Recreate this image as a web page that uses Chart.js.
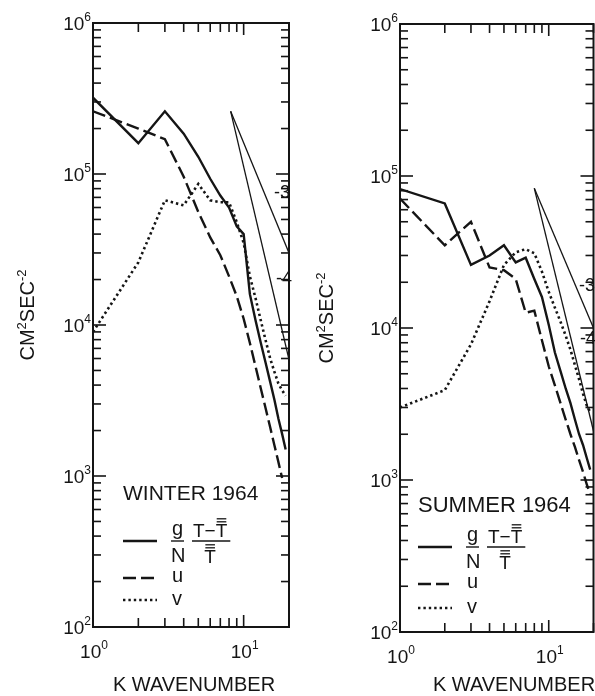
<!DOCTYPE html>
<html>
<head>
<meta charset="utf-8">
<script src="https://cdn.jsdelivr.net/npm/chart.js@4.4.0/dist/chart.umd.min.js"></script>
<style>
  html, body { margin: 0; padding: 0; background: #fff; }
  #wrap { position: relative; width: 595px; height: 696px; overflow: hidden; }
  #chartWinter { position: absolute; left: 0; top: 0; }
  #chartSummer { position: absolute; left: 300px; top: 0; }
</style>
</head>
<body>
<div id="wrap">
  <canvas id="chartWinter" width="300" height="696"></canvas>
  <canvas id="chartSummer" width="295" height="696"></canvas>
</div>
<script>
// wavenumber k (both seasons)
const wavenumber = [1, 2, 3, 4, 5, 6, 7, 8, 9, 10, 11, 12, 13, 14, 15, 16, 17, 18, 19];

// WINTER 1964, cm^2 sec^-2
const winterTemp = [3.2e5, 1.6e5, 2.6e5, 1.85e5, 1.3e5, 9.3e4, 7.2e4, 6.0e4, 4.5e4, 4.0e4,
                    1.6e4, 1.07e4, 7.6e3, 5.6e3, 4.2e3, 3.2e3, 2.4e3, 1.9e3, 1.5e3];
const winterU = [2.6e5, 2.0e5, 1.7e5, 9.6e4, 5.6e4, 3.8e4, 2.9e4, 2.1e4, 1.55e4, 1.1e4,
                 7.6e3, 5.3e3, 3.8e3, 2.8e3, 2.1e3, 1.6e3, 1.24e3, 970, null];
const winterV = [9.0e3, 2.6e4, 6.7e4, 6.2e4, 8.6e4, 6.7e4, 6.5e4, 6.5e4, 4.8e4, 3.5e4,
                 2.1e4, 1.5e4, 1.07e4, 7.9e3, 6.0e3, 4.9e3, 4.1e3, 3.7e3, 3.4e3];

// SUMMER 1964, cm^2 sec^-2
const summerTemp = [8.2e4, 6.6e4, 2.6e4, 3.0e4, 3.5e4, 2.7e4, 2.9e4, 2.1e4, 1.6e4, 1.05e4,
                    6.9e3, 5.2e3, 4.0e3, 3.2e3, 2.5e3, 2.0e3, 1.7e3, 1.4e3, 1.17e3];
const summerU = [7.1e4, 3.5e4, 5.0e4, 2.5e4, 2.4e4, 2.1e4, 1.26e4, 1.3e4, 8.3e3, 5.6e3,
                 4.2e3, 3.2e3, 2.5e3, 2.0e3, 1.65e3, 1.35e3, 1.13e3, 940, 800];
const summerV = [3.0e3, 3.9e3, 7.8e3, 1.5e4, 2.6e4, 3.15e4, 3.3e4, 3.1e4, 2.35e4, 1.73e4,
                 1.36e4, 1.1e4, 8.9e3, 7.2e3, 5.7e3, 4.6e3, 3.7e3, 3.1e3, 2.8e3];

// reference slopes k^-3 and k^-4
const winterSlopeK = [8.2, 20];
const winterSlope3 = [2.6e5, 3.0e4];
const winterSlope4 = [2.6e5, 5.9e3];
const summerSlopeK = [8, 20];
const summerSlope3 = [8.3e4, 1.0e4];
const summerSlope4 = [8.3e4, 2.1e3];

// axes
const xRange = [1, 20];
const yRange = [100, 1e6];
const xDecades = [0, 1];
const yDecades = [2, 3, 4, 5, 6];
const minorSteps = [2, 3, 4, 5, 6, 7, 8, 9];

const ink = "#151515";
const font = '"Liberation Sans", Arial, sans-serif';

function toPoints(ks, vals) {
  return ks.map((k, i) => ({ x: k, y: vals[i] })).filter(p => p.y != null);
}

function line(ctx, x1, y1, x2, y2) {
  ctx.beginPath();
  ctx.moveTo(x1, y1);
  ctx.lineTo(x2, y2);
  ctx.stroke();
}

// draws a run of [text, size, rise] pieces
function drawRun(ctx, parts, x, y, align) {
  let total = 0;
  parts.forEach(p => { ctx.font = p[1] + "px " + font; total += ctx.measureText(p[0]).width; });
  let cx = align === "right" ? x - total : align === "center" ? x - total / 2 : x;
  ctx.textAlign = "left";
  ctx.textBaseline = "alphabetic";
  parts.forEach(p => {
    ctx.font = p[1] + "px " + font;
    ctx.fillText(p[0], cx, y - p[2]);
    cx += ctx.measureText(p[0]).width;
  });
}

function drawTBar(ctx, x, y, size, bars) {
  ctx.font = size + "px " + font;
  ctx.fillText("T", x, y);
  const w = ctx.measureText("T").width;
  ctx.lineWidth = 1.3;
  ctx.setLineDash([]);
  for (let i = 0; i < bars; i++) {
    line(ctx, x + 1, y - size * 0.8 - i * 3, x + w - 1, y - size * 0.8 - i * 3);
  }
  return w;
}

const paperPlugin = {
  id: "paper",
  afterDatasetsDraw(chart, args, o) {
    const ctx = chart.ctx;
    const a = chart.chartArea;
    const xs = chart.scales.x, ys = chart.scales.y;
    ctx.save();
    ctx.strokeStyle = ink;
    ctx.fillStyle = ink;
    ctx.setLineDash([]);

    // frame
    ctx.lineWidth = 2;
    ctx.strokeRect(a.left, a.top, a.right - a.left, a.bottom - a.top);

    // inward ticks on all four sides
    ctx.lineWidth = 1.6;
    yDecades.forEach(e => {
      const base = Math.pow(10, e);
      const y = ys.getPixelForValue(base);
      line(ctx, a.left, y, a.left + 13, y);
      line(ctx, a.right, y, a.right - 13, y);
      if (e < yDecades[yDecades.length - 1]) {
        minorSteps.forEach(m => {
          const ym = ys.getPixelForValue(m * base);
          line(ctx, a.left, ym, a.left + 8, ym);
          line(ctx, a.right, ym, a.right - 8, ym);
        });
      }
    });
    xDecades.forEach(e => {
      const base = Math.pow(10, e);
      const x = xs.getPixelForValue(base);
      line(ctx, x, a.bottom, x, a.bottom - 12);
      line(ctx, x, a.top, x, a.top + 12);
      minorSteps.forEach(m => {
        const v = m * base;
        if (v > xRange[1]) return;
        const xm = xs.getPixelForValue(v);
        line(ctx, xm, a.bottom, xm, a.bottom - 9);
        line(ctx, xm, a.top, xm, a.top + 9);
      });
    });

    // tick labels
    yDecades.forEach(e => {
      const y = ys.getPixelForValue(Math.pow(10, e));
      drawRun(ctx, [["10", 19, 0], [String(e), 12, 9]], a.left - 2, y + 7, "right");
    });
    xDecades.forEach(e => {
      const x = xs.getPixelForValue(Math.pow(10, e));
      drawRun(ctx, [["10", 19, 0], [String(e), 12, 9]], x + 1, a.bottom + 31, "center");
    });

    // axis titles
    drawRun(ctx, [["K WAVENUMBER", 20, 0]], o.xTitleX, 691, "center");
    ctx.save();
    ctx.translate(o.yTitleX, o.yTitleY);
    ctx.rotate(-Math.PI / 2);
    drawRun(ctx, [["CM", 20, 0], ["2", 13, 8], ["SEC", 20, 0], ["-2", 13, 8]], 0, 7, "center");
    ctx.restore();

    // slope labels
    drawRun(ctx, [["-3", 18, 0]], o.slope3[0], o.slope3[1], "center");
    drawRun(ctx, [["-4", 18, 0]], o.slope4[0], o.slope4[1], "center");

    // legend
    const L = o.legend;
    drawRun(ctx, [[L.title, L.titleSize, 0]], L.x, L.titleY, "left");
    const ds = chart.data.datasets;
    L.rows.forEach((ry, i) => {
      ctx.setLineDash(ds[i].borderDash || []);
      ctx.lineWidth = ds[i].borderWidth;
      line(ctx, L.x, ry, L.x + 34, ry);
    });
    ctx.setLineDash([]);
    const r0 = L.rows[0];
    const gx = L.x + 49;
    ctx.lineWidth = 1.4;
    drawRun(ctx, [["g", 20, 0]], gx, r0 - 6, "left");
    line(ctx, gx - 1, r0, gx + 12, r0);
    drawRun(ctx, [["N", 20, 0]], gx - 1, r0 + 21, "left");
    const tx = gx + 21;
    let w = drawTBar(ctx, tx, r0 - 4, 19, 0);
    ctx.font = "19px " + font;
    ctx.fillText("\u2212", tx + w, r0 - 4);
    const mw = ctx.measureText("\u2212").width;
    drawTBar(ctx, tx + w + mw, r0 - 4, 19, 2);
    ctx.lineWidth = 1.4;
    line(ctx, tx - 1, r0, tx + 2 * w + mw + 3, r0);
    drawTBar(ctx, tx + w / 2 + mw / 2, r0 + 22, 19, 2);
    drawRun(ctx, [["u", 20, 0]], gx, L.rows[1] + 4, "left");
    drawRun(ctx, [["v", 20, 0]], gx, L.rows[2] + 5, "left");

    ctx.restore();
  }
};

function makeChart(id, temp, u, v, slopeK, s3, s4, pad, opts) {
  return new Chart(document.getElementById(id), {
    type: "scatter",
    data: {
      datasets: [
        { data: toPoints(wavenumber, temp), borderColor: ink, borderWidth: 2.4, borderDash: [] },
        { data: toPoints(wavenumber, u), borderColor: ink, borderWidth: 2.4, borderDash: [13, 5] },
        { data: toPoints(wavenumber, v), borderColor: ink, borderWidth: 2.6, borderDash: [2.4, 3] },
        { data: toPoints(slopeK, s3), borderColor: ink, borderWidth: 1.3, borderDash: [] },
        { data: toPoints(slopeK, s4), borderColor: ink, borderWidth: 1.3, borderDash: [] }
      ].map(d => Object.assign(d, { showLine: true, pointRadius: 0, tension: 0, fill: false }))
    },
    options: {
      responsive: false,
      animation: false,
      layout: { padding: pad },
      plugins: { legend: { display: false }, tooltip: { enabled: false }, paper: opts },
      scales: {
        x: { type: "logarithmic", min: xRange[0], max: xRange[1], display: false },
        y: { type: "logarithmic", min: yRange[0], max: yRange[1], display: false }
      }
    },
    plugins: [paperPlugin]
  });
}

makeChart("chartWinter", winterTemp, winterU, winterV, winterSlopeK, winterSlope3, winterSlope4,
  { left: 93, right: 11, top: 23, bottom: 69 },
  {
    xTitleX: 194, yTitleX: 27, yTitleY: 315,
    slope3: [282, 198], slope4: [284, 284],
    legend: { title: "WINTER 1964", titleSize: 21, x: 123, titleY: 500, rows: [541, 578, 600] }
  });

makeChart("chartSummer", summerTemp, summerU, summerV, summerSlopeK, summerSlope3, summerSlope4,
  { left: 100, right: 1.5, top: 24, bottom: 64 },
  {
    xTitleX: 214, yTitleX: 26, yTitleY: 318,
    slope3: [287, 291], slope4: [288, 344],
    legend: { title: "SUMMER 1964", titleSize: 22, x: 118, titleY: 512, rows: [547, 584, 608] }
  });
</script>
</body>
</html>
